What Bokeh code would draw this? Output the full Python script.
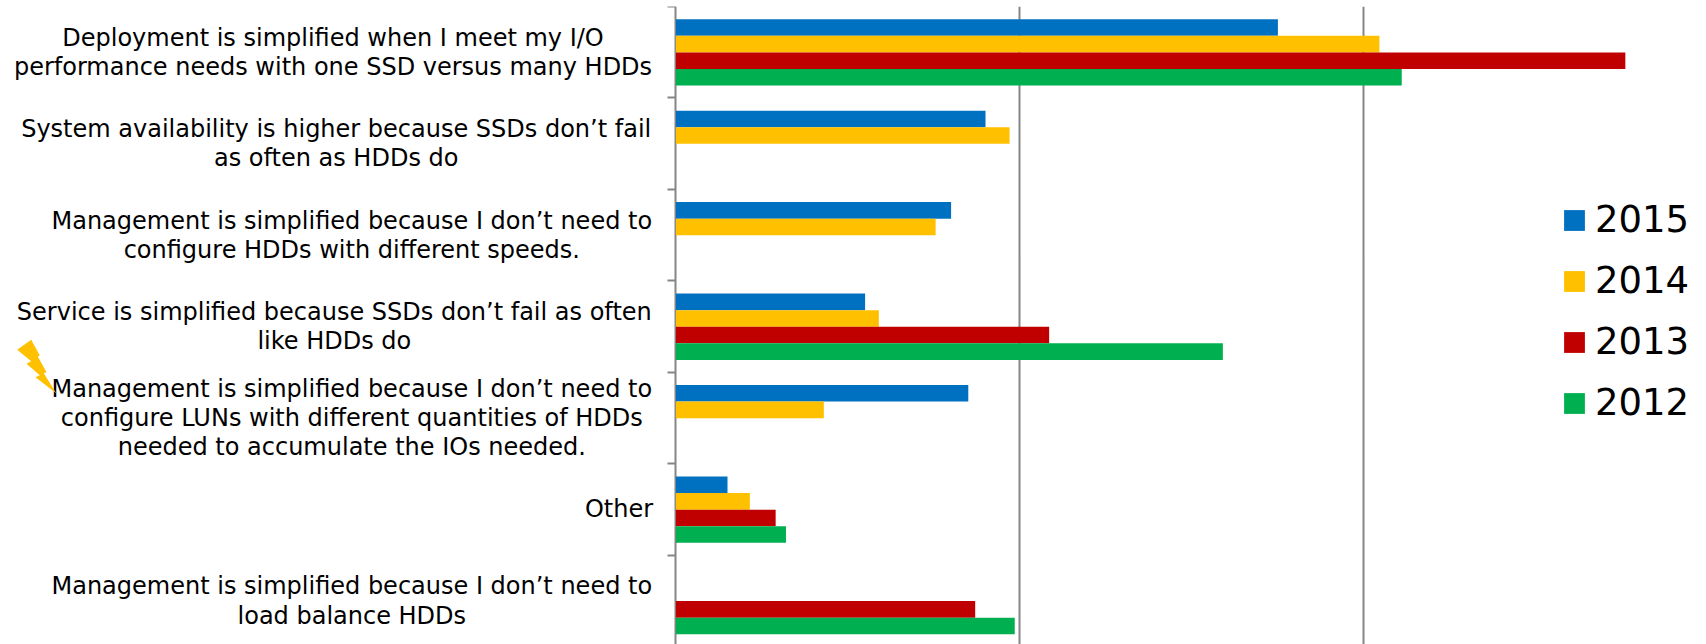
from bokeh.embed import file_html
from bokeh.models import (ColumnDataSource, FixedTicker, Grid, Legend, LegendItem,
                          PolyAnnotation, Range1d)
from bokeh.plotting import figure
from bokeh.resources import INLINE
from bokeh.core.properties import value

# Survey responses, top row first; each category is a list of wrapped lines
categories = [
    ["Deployment is simplified when I meet my I/O", "performance needs with one SSD versus many HDDs"],
    ["System availability is higher because SSDs don\u2019t fail", "as often as HDDs do"],
    ["Management is simplified because I don\u2019t need to", "configure HDDs with different speeds."],
    ["Service is simplified because SSDs don\u2019t fail as often", "like HDDs do"],
    ["Management is simplified because I don\u2019t need to", "configure LUNs with different quantities of HDDs",
     "needed to accumulate the IOs needed."],
    ["Other"],
    ["Management is simplified because I don\u2019t need to", "load balance HDDs"],
]

# Percent of respondents per year; None where the question was not asked
years = ["2015", "2014", "2013", "2012"]
values_2015 = [35.0, 18.0, 16.0, 11.0, 17.0, 3.0, None]
values_2014 = [40.9, 19.4, 15.1, 11.8, 8.6, 4.3, None]
values_2013 = [55.2, None, None, 21.7, None, 5.8, 17.4]
values_2012 = [42.2, None, None, 31.8, None, 6.4, 19.7]
series = [values_2015, values_2014, values_2013, values_2012]
colors = ["#0070C0", "#FFC000", "#C00000", "#00B050"]

# Page layout in pixels
WIDTH, HEIGHT = 1706, 644
AXIS_PX = 675.4
PX_PER_PCT = 344.0 / 20.0
TOP_PX = 6.0
ROW_PX = 91.45
BAR_PX = 16.6
FIRST_BAR_PX = 12.7
LINE_PX = 29.2
label_center_px = [332.5, 335.7, 351.3, 333.8, 351.3, 618.5, 351.3]
AXIS_COLOR = "#868686"
FONT = "DejaVu Sans"

p = figure(
    width=WIDTH, height=HEIGHT, output_backend="svg", toolbar_location=None,
    x_axis_location=None, y_axis_location="left",
    x_range=Range1d(-AXIS_PX / PX_PER_PCT, (WIDTH - AXIS_PX) / PX_PER_PCT),
    y_range=Range1d((HEIGHT - TOP_PX) / ROW_PX, 0),
    min_border_left=0, min_border_right=0, min_border_top=int(TOP_PX), min_border_bottom=0,
    outline_line_color=None, background_fill_color="white",
)
p.grid.visible = False

p.add_layout(Grid(dimension=0, ticker=FixedTicker(ticks=[20, 40]),
                  grid_line_color=AXIS_COLOR, grid_line_width=2))

# Category axis pinned to the zero line, ticks on row boundaries
ax = p.yaxis[0]
ax.fixed_location = 0
ax.ticker = FixedTicker(ticks=list(range(len(categories))))
ax.axis_line_color = AXIS_COLOR
ax.axis_line_width = 2
ax.major_tick_line_color = AXIS_COLOR
ax.major_tick_line_width = 2
ax.major_tick_out = 8
ax.major_tick_in = 0
ax.minor_tick_line_color = None
ax.major_label_text_color = None
ax.major_label_text_font_size = "0px"
ax.level = "underlay"

# One row of bars per category, stacked side by side within the row
legend_items = []
for j, (year, vals, color) in enumerate(zip(years, series, colors)):
    rows = [i for i, v in enumerate(vals) if v is not None]
    source = ColumnDataSource(dict(
        y=[i + (FIRST_BAR_PX + BAR_PX * (j + 0.5)) / ROW_PX for i in rows],
        right=[vals[i] for i in rows],
    ))
    r = p.hbar(y="y", right="right", left=0, height=BAR_PX / ROW_PX, source=source,
               fill_color=color, line_color=None)
    legend_items.append(LegendItem(label=year, renderers=[r]))

# Wrapped category labels, each line centred on its block
xs, ys, texts = [], [], []
for i, lines in enumerate(categories):
    for k, line in enumerate(lines):
        xs.append((label_center_px[i] - AXIS_PX) / PX_PER_PCT)
        ys.append(i + 0.5 + (k - (len(lines) - 1) / 2) * LINE_PX / ROW_PX)
        texts.append(line)
p.text(x=xs, y=ys, text=texts, text_align="center", text_baseline="middle",
       text_font=value(FONT), text_font_size="24px", text_color="black")

# Lightning bolt flag beside the fifth category, in page pixels measured from the top
bolt_x = [16.7, 30.7, 39.3, 37.3, 46.0, 43.3, 55.7, 35.0, 39.3, 26.0, 30.7]
bolt_y = [349.3, 339.3, 355.0, 356.0, 371.7, 372.7, 392.7, 376.7, 374.7, 363.3, 360.7]
p.add_layout(PolyAnnotation(xs=bolt_x, ys=[HEIGHT - y for y in bolt_y],
                            xs_units="screen", ys_units="screen",
                            fill_color="#FFC000", fill_alpha=1, line_color=None))

legend = Legend(
    items=legend_items, location=(1561, 220), orientation="vertical",
    glyph_width=26, glyph_height=26, label_standoff=8, spacing=18, padding=0, margin=0,
    label_text_font=FONT, label_text_font_size="37px", label_text_color="black",
    background_fill_alpha=0, border_line_color=None,
)
p.add_layout(legend, "center")

open("out.html", "w").write(file_html(p, INLINE))
